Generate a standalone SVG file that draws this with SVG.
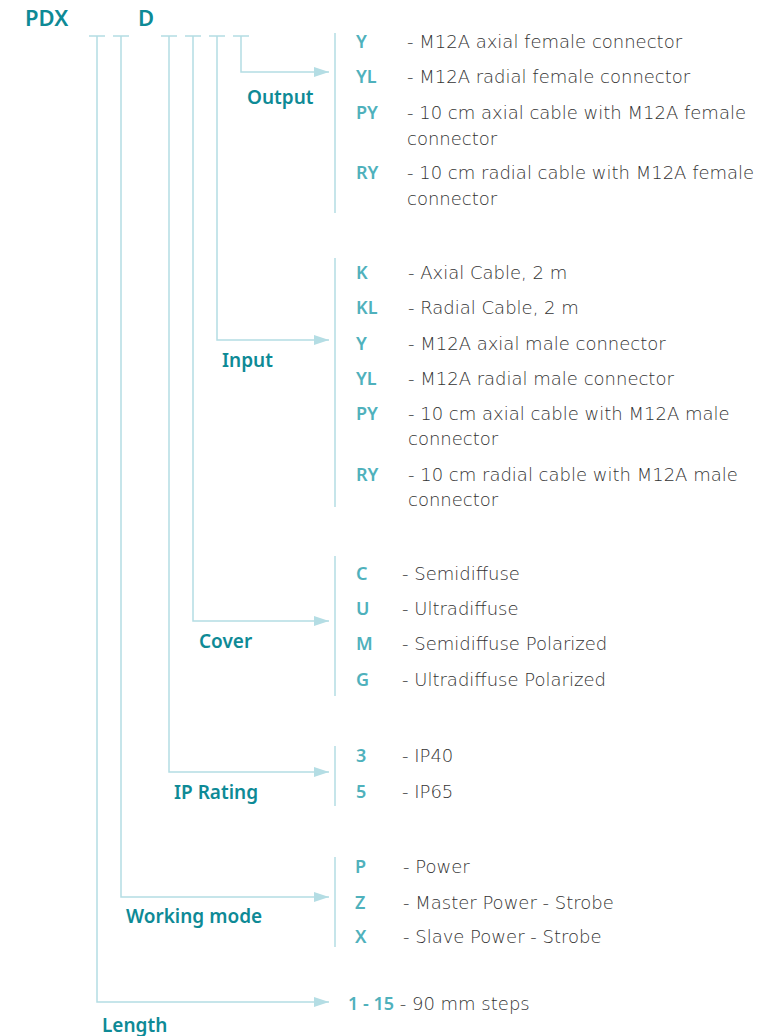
<svg xmlns="http://www.w3.org/2000/svg" width="760" height="1036" viewBox="0 0 760 1036">
<defs>
<style>
.ln{fill:none;stroke:#b4dde4;stroke-width:1.5}
.ttl{font-family:"Noto Sans","DejaVu Sans",sans-serif;font-weight:600;font-size:19px;fill:#0e8a96}
.hd{font-family:"Noto Sans","DejaVu Sans",sans-serif;font-weight:600;font-size:22px;fill:#0e8a96}
.cd{font-family:"Noto Sans","DejaVu Sans",sans-serif;font-weight:600;font-size:18px;fill:#4fb1bc}
.ds{font-family:"DejaVu Sans",sans-serif;font-weight:200;font-size:18px;fill:#333333}
</style>
<marker id="ah" markerWidth="16" markerHeight="10" refX="15" refY="5" orient="auto" markerUnits="userSpaceOnUse">
<path d="M0,0 L15,5 L0,10 Z" fill="#b4dde4"/>
</marker>
</defs>
<rect width="760" height="1036" fill="#ffffff"/>
<g id="header">
<text class="hd" x="25" y="26">PDX</text>
<text class="hd" x="138" y="26">D</text>
</g>
<g id="connectors">
<path class="ln" d="M89,36 H105 M113,36 H129 M161,36 H177 M185,36 H201 M209,36 H225 M233,36 H249"/>
<path class="ln" marker-end="url(#ah)" d="M241,36 V72 H329"/>
<path class="ln" marker-end="url(#ah)" d="M217,36 V340 H329"/>
<path class="ln" marker-end="url(#ah)" d="M193,36 V621 H329"/>
<path class="ln" marker-end="url(#ah)" d="M169,36 V772 H329"/>
<path class="ln" marker-end="url(#ah)" d="M121,36 V897 H329"/>
<path class="ln" marker-end="url(#ah)" d="M97,36 V1002 H329"/>
<path class="ln" d="M335,33 V213 M335,258 V507 M335,556 V696 M335,746 V806 M335,857 V947"/>
</g>
<g id="output">
<text class="ttl" x="247" y="104">Output</text>
<text class="cd" x="356" y="48">Y</text><text class="ds" x="407" y="48">- M12A axial female connector</text>
<text class="cd" x="356" y="83">YL</text><text class="ds" x="407" y="83">- M12A radial female connector</text>
<text class="cd" x="356" y="119">PY</text><text class="ds" x="407" y="119">- 10 cm axial cable with M12A female</text>
<text class="ds" x="407" y="145">connector</text>
<text class="cd" x="356" y="179">RY</text><text class="ds" x="407" y="179">- 10 cm radial cable with M12A female</text>
<text class="ds" x="407" y="205">connector</text>
</g>
<g id="input">
<text class="ttl" x="222" y="367">Input</text>
<text class="cd" x="356" y="279">K</text><text class="ds" x="408" y="279">- Axial Cable, 2 m</text>
<text class="cd" x="356" y="314">KL</text><text class="ds" x="408" y="314">- Radial Cable, 2 m</text>
<text class="cd" x="356" y="350">Y</text><text class="ds" x="408" y="350">- M12A axial male connector</text>
<text class="cd" x="356" y="385">YL</text><text class="ds" x="408" y="385">- M12A radial male connector</text>
<text class="cd" x="356" y="420">PY</text><text class="ds" x="408" y="420">- 10 cm axial cable with M12A male</text>
<text class="ds" x="408" y="445">connector</text>
<text class="cd" x="356" y="481">RY</text><text class="ds" x="408" y="481">- 10 cm radial cable with M12A male</text>
<text class="ds" x="408" y="506">connector</text>
</g>
<g id="cover">
<text class="ttl" x="199" y="648">Cover</text>
<text class="cd" x="356" y="580">C</text><text class="ds" x="402" y="580">- Semidiffuse</text>
<text class="cd" x="356" y="615">U</text><text class="ds" x="402" y="615">- Ultradiffuse</text>
<text class="cd" x="356" y="650">M</text><text class="ds" x="402" y="650">- Semidiffuse Polarized</text>
<text class="cd" x="356" y="686">G</text><text class="ds" x="402" y="686">- Ultradiffuse Polarized</text>
</g>
<g id="ip-rating">
<text class="ttl" x="174" y="799">IP Rating</text>
<text class="cd" x="356" y="762">3</text><text class="ds" x="402" y="762">- IP40</text>
<text class="cd" x="356" y="798">5</text><text class="ds" x="402" y="798">- IP65</text>
</g>
<g id="working-mode">
<text class="ttl" x="126" y="923">Working mode</text>
<text class="cd" x="355" y="873">P</text><text class="ds" x="403" y="873">- Power</text>
<text class="cd" x="355" y="909">Z</text><text class="ds" x="403" y="909">- Master Power - Strobe</text>
<text class="cd" x="355" y="943">X</text><text class="ds" x="403" y="943">- Slave Power - Strobe</text>
</g>
<g id="length">
<text class="ttl" x="102" y="1032">Length</text>
<text x="348" y="1010"><tspan class="cd">1 - 15</tspan><tspan class="ds"> - 90 mm steps</tspan></text>
</g>
</svg>
